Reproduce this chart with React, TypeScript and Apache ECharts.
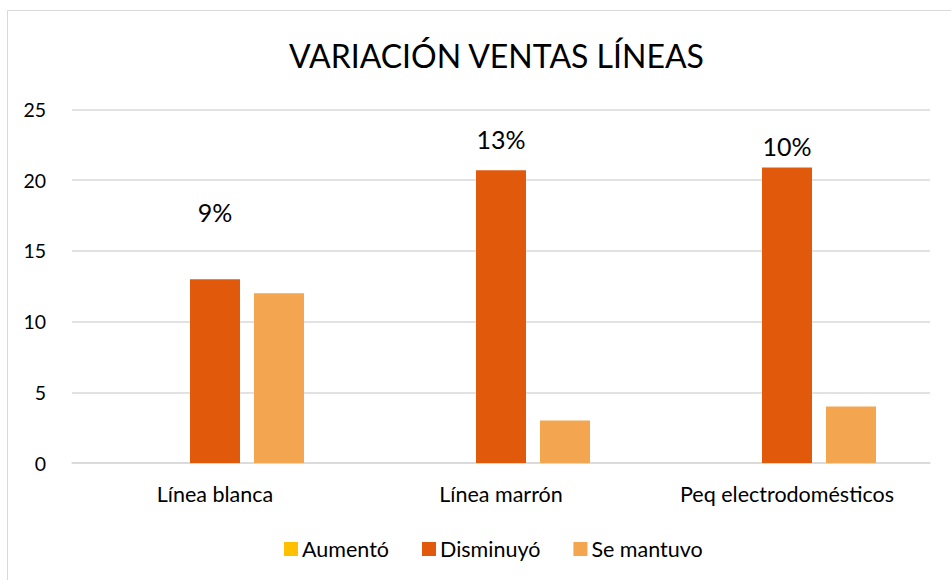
import React, { useEffect, useRef } from "react";
import * as echarts from "echarts";

const categories = ["Línea blanca", "Línea marrón", "Peq electrodomésticos"];
const seriesNames = ["Aumentó", "Disminuyó", "Se mantuvo"];
const aumento = [0, 0, 0];
const disminuyo = [13, 20.7, 20.9];
const seMantuvo = [12, 3, 4];
const percentLabels = ["9%", "13%", "10%"];
const yTicks = { min: 0, max: 25, interval: 5 };
const titleText = "VARIACIÓN VENTAS LÍNEAS";

// style only
const labelDistances = [55, 19, 9];
const colors = ["#FFC000", "#E15A0C", "#F3A54F"];
const FONT = "Lato";

export default function App() {
  const ref = useRef<HTMLDivElement>(null);
  useEffect(() => {
    if (!ref.current) return;
    const chart = echarts.init(ref.current, null, { renderer: "svg" });
    const barBase = {
      type: "bar" as const,
      barWidth: 50,
      barGap: "28%",
    };
    chart.setOption({
      animation: false,
      backgroundColor: "#ffffff",
      textStyle: { fontFamily: FONT },
      title: {
        text: titleText,
        left: 491.5,
        textAlign: "center",
        top: 34,
        textStyle: { fontFamily: FONT, fontSize: 32, fontWeight: "normal", color: "#000000" },
      },
      graphic: [
        {
          type: "rect",
          shape: { x: 7.5, y: 10.5, width: 1000, height: 700 },
          style: { fill: "none", stroke: "#d9d9d9", lineWidth: 1 },
          silent: true,
          z: -10,
        },
      ],
      legend: {
        left: 279,
        top: 533,
        itemWidth: 14,
        itemHeight: 14,
        itemGap: 33,
        icon: "rect",
        data: seriesNames,
        textStyle: { fontFamily: FONT, fontSize: 21.5, color: "#000000", padding: [0, 0, 0, -1] },
      },
      grid: { left: 72, right: 21, top: 109.5, bottom: 117, containLabel: false },
      xAxis: {
        type: "category",
        data: categories,
        axisLine: { show: true, lineStyle: { color: "#d9d9d9", width: 1.5 } },
        axisTick: { show: false },
        axisLabel: { fontFamily: FONT, fontSize: 21.5, color: "#000000", margin: 20 },
      },
      yAxis: {
        type: "value",
        min: yTicks.min,
        max: yTicks.max,
        interval: yTicks.interval,
        axisLine: { show: false },
        axisTick: { show: false },
        splitLine: { lineStyle: { color: "#d9d9d9", width: 1.5 } },
        axisLabel: { fontFamily: FONT, fontSize: 19.5, color: "#000000", margin: 26 },
      },
      series: [
        { ...barBase, name: seriesNames[0], data: aumento, itemStyle: { color: colors[0] } },
        {
          ...barBase,
          name: seriesNames[1],
          itemStyle: { color: colors[1] },
          data: disminuyo.map((v, i) => ({
            value: v,
            label: {
              show: true,
              position: "top",
              distance: labelDistances[i],
              formatter: percentLabels[i],
              fontFamily: FONT,
              fontSize: 25,
              color: "#000000",
            },
          })),
        },
        { ...barBase, name: seriesNames[2], data: seMantuvo, itemStyle: { color: colors[2] } },
      ],
    });
    return () => chart.dispose();
  }, []);
  return (
    <div
      ref={ref}
      style={{ position: "fixed", left: 0, top: 0, width: 951, height: 580, background: "#fff" }}
    />
  );
}
